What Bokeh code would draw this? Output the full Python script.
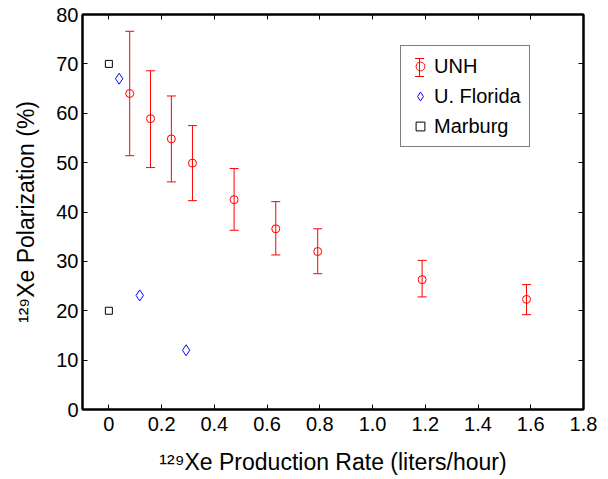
import numpy as np
from bokeh.plotting import figure
from bokeh.models import (ColumnDataSource, Whisker, TeeHead, Legend, LegendItem,
                          LinearAxis, FixedTicker, CustomJSTickFormatter, Range1d)
from bokeh.embed import file_html
from bokeh.resources import INLINE

# UNH data
unh_x = [0.079, 0.158, 0.237, 0.317, 0.475, 0.633, 0.792, 1.188, 1.584]
unh_y = [64.0, 58.9, 54.8, 49.9, 42.5, 36.6, 32.0, 26.3, 22.3]
unh_upper = [76.6, 68.6, 63.5, 57.5, 48.8, 42.1, 36.6, 30.2, 25.3]
unh_lower = [51.4, 49.0, 46.1, 42.3, 36.3, 31.3, 27.5, 22.8, 19.2]

# U. Florida data
uf_x = [0.039, 0.117, 0.293]
uf_y = [67.0, 23.1, 12.0]

# Marburg data
mb_x = [0.0, 0.0]
mb_y = [70.0, 20.0]

x_ticks = [0, 0.2, 0.4, 0.6, 0.8, 1.0, 1.2, 1.4, 1.6, 1.8]
y_ticks = [0, 10, 20, 30, 40, 50, 60, 70, 80]

FONT = "Liberation Sans"
FW, FH = 501, 395

p = figure(frame_width=FW, frame_height=FH, output_backend="svg", toolbar_location=None,
           x_range=Range1d(-0.1, 1.8), y_range=Range1d(0, 80),
           min_border_left=82, min_border_right=17, min_border_top=14, min_border_bottom=62)
p.extra_x_ranges = {"px": Range1d(0, FW)}
p.extra_y_ranges = {"px": Range1d(0, FH)}
p.xgrid.visible = False
p.ygrid.visible = False
p.outline_line_color = "black"
p.outline_line_width = 2
p.background_fill_color = "white"
p.border_fill_color = "white"

fmt = CustomJSTickFormatter(code="return tick == 0 ? '0' : tick.toFixed(1);")

for ax in p.xaxis:
    ax.ticker = FixedTicker(ticks=x_ticks)
    ax.formatter = fmt
for ax in p.yaxis:
    ax.ticker = FixedTicker(ticks=y_ticks)

for ax in list(p.xaxis) + list(p.yaxis):
    ax.major_tick_in = 5
    ax.major_tick_out = 0
    ax.minor_tick_line_color = None
    ax.axis_line_width = 2
    ax.major_tick_line_width = 1
    ax.major_label_text_font = FONT
    ax.major_label_text_font_size = "20px"
    ax.major_label_text_color = "black"
    ax.axis_label_text_font = FONT
    ax.axis_label_text_font_size = "23px"
    ax.axis_label_text_font_style = "normal"
    ax.axis_label_text_color = "black"

p.xaxis.major_label_standoff = 7
p.yaxis.major_label_standoff = 4
p.xaxis.axis_label = "¹²⁹Xe Production Rate (liters/hour)"
p.yaxis.axis_label = "¹²⁹Xe Polarization (%)"
p.xaxis.axis_label_standoff = 15
p.yaxis.axis_label_standoff = 14

top = LinearAxis(ticker=FixedTicker(ticks=x_ticks), major_label_text_font_size="1px",
                 major_label_text_color=None,
                 major_tick_in=5, major_tick_out=0, minor_tick_line_color=None,
                 axis_line_width=2, major_label_standoff=0)
right = LinearAxis(ticker=FixedTicker(ticks=y_ticks), major_label_text_font_size="1px",
                   major_label_text_color=None,
                   major_tick_in=5, major_tick_out=0, minor_tick_line_color=None,
                   axis_line_width=2, major_label_standoff=0)
p.add_layout(top, "above")
p.add_layout(right, "right")

src = ColumnDataSource(dict(x=unh_x, y=unh_y, upper=unh_upper, lower=unh_lower))
wh = Whisker(source=src, base="x", upper="upper", lower="lower",
             line_color="red", line_width=1,
             upper_head=TeeHead(size=9, line_color="red", line_width=1),
             lower_head=TeeHead(size=9, line_color="red", line_width=1))
p.add_layout(wh)

r_unh = p.scatter(unh_x, unh_y, marker="circle", size=8, fill_color=None,
                  line_color="red", line_width=1)
r_uf = p.scatter(uf_x, uf_y, marker="diamond", size=11, fill_color=None,
                 line_color="blue", line_width=1)
r_mb = p.scatter(mb_x, mb_y, marker="square", size=7, fill_color=None,
                 line_color="black", line_width=1)

# legend layout settings
LEG_X, LEG_Y = 318, 262
PAD, GW, GH, SP = 8, 22, 24, 6

legend = Legend(items=[
    LegendItem(label="UNH", renderers=[r_unh]),
    LegendItem(label="U. Florida", renderers=[r_uf]),
    LegendItem(label="Marburg", renderers=[r_mb]),
], location=(LEG_X, LEG_Y))
legend.label_text_font = FONT
legend.label_text_font_size = "20px"
legend.label_text_color = "black"
legend.border_line_color = "black"
legend.border_line_width = 1.5
legend.padding = PAD
legend.spacing = SP
legend.glyph_width = GW
legend.glyph_height = GH
legend.label_height = GH
legend.label_standoff = 3
legend.margin = 0
legend.background_fill_alpha = 0
p.add_layout(legend, "center")

# error-bar symbol for the UNH legend entry, placed in a pixel-mapped range
leg_h = 2 * PAD + 3 * GH + 2 * SP
bar_x = LEG_X + PAD + GW / 2
bar_y = LEG_Y + leg_h - PAD - GH / 2
leg_src = ColumnDataSource(dict(x=[bar_x], lo=[bar_y - 9], hi=[bar_y + 9]))
leg_wh = Whisker(source=leg_src, base="x", upper="hi", lower="lo",
                 x_range_name="px", y_range_name="px",
                 line_color="red", line_width=1, level="overlay",
                 upper_head=TeeHead(size=9, line_color="red", line_width=1),
                 lower_head=TeeHead(size=9, line_color="red", line_width=1))
p.add_layout(leg_wh)

open("out.html", "w").write(file_html(p, INLINE))
